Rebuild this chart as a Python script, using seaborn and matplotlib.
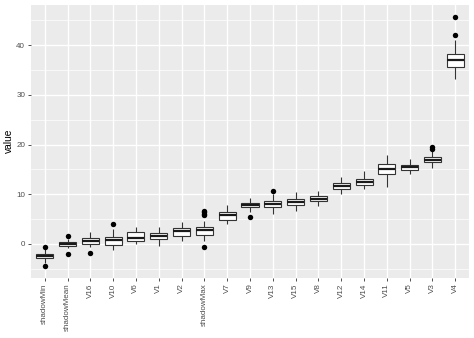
import numpy as np
import pandas as pd
import seaborn as sns
import matplotlib
matplotlib.use("Agg")
import matplotlib.pyplot as plt
from matplotlib.ticker import MultipleLocator

# ---- data ----
features = ["shadowMin", "shadowMean", "V16", "V10", "V6", "V1", "V2", "shadowMax",
            "V7", "V9", "V13", "V15", "V8", "V12", "V14", "V11", "V5", "V3", "V4"]
whisker_lo = [-3.76, -0.87, -0.67, -1.20, 0.07, -0.40, 0.60, 0.60,
              3.96, 6.50, 5.97, 6.70, 7.65, 10.10, 11.00, 11.47, 14.02, 15.36, 33.30]
q1 = [-2.85, -0.35, 0.07, -0.20, 0.54, 0.94, 1.61, 1.81,
      4.90, 7.38, 7.38, 7.91, 8.65, 11.07, 11.87, 14.02, 14.89, 16.43, 35.68]
median = [-2.41, 0.00, 0.54, 0.87, 1.21, 1.68, 2.55, 2.82,
          5.77, 7.91, 7.98, 8.51, 9.12, 11.74, 12.54, 15.09, 15.49, 16.97, 36.96]
q3 = [-2.05, 0.35, 1.27, 1.41, 2.35, 2.28, 3.15, 3.49,
      6.37, 8.31, 8.65, 9.12, 9.59, 12.27, 13.08, 16.03, 15.96, 17.57, 38.23]
whisker_hi = [-1.07, 0.94, 2.41, 2.95, 3.36, 3.49, 4.36, 4.60,
              7.85, 9.30, 10.00, 10.50, 10.66, 13.40, 14.60, 17.90, 17.10, 18.70, 41.05]
outlier_feature = ["shadowMin", "shadowMin", "shadowMean", "shadowMean", "V16", "V10",
                   "shadowMax", "shadowMax", "shadowMax", "shadowMax", "shadowMax",
                   "V9", "V13", "V3", "V3", "V4", "V4"]
outlier_value = [-0.54, -4.37, 1.54, -2.00, -1.81, 4.09,
                 6.70, 6.40, 6.10, 5.80, -0.67,
                 5.37, 10.66, 19.20, 19.50, 45.67, 41.99]

# ---- build tables for seaborn ----
rows = []
for f, lo, a, m, b, hi in zip(features, whisker_lo, q1, median, q3, whisker_hi):
    for v in (lo, a, m, b, hi):
        rows.append((f, v))
core = pd.DataFrame(rows, columns=["variable", "value"])
outs = pd.DataFrame({"variable": outlier_feature, "value": outlier_value})

plt.rcParams["font.family"] = ["Liberation Sans", "DejaVu Sans"]

fig = plt.figure(figsize=(4.74, 3.38), dpi=100)
ax = fig.add_axes([31 / 474, 1 - 277.5 / 338, (469 - 31) / 474, (277.5 - 5) / 338])
ax.set_facecolor("#EBEBEB")

sns.boxplot(data=core, x="variable", y="value", order=features, ax=ax,
            color="white", linecolor="#333333", linewidth=0.8, width=0.75,
            whis=(0, 100), showfliers=False, showcaps=False,
            medianprops=dict(color="#1a1a1a", linewidth=1.6), zorder=3)
sns.stripplot(data=outs, x="variable", y="value", order=features, ax=ax,
              jitter=False, color="black", size=3.9, linewidth=0, zorder=4)

ax.set_xlim(-0.6, len(features) - 1 + 0.6)
ax.set_ylim(-6.75, 48.1)
ax.yaxis.set_major_locator(MultipleLocator(10))
ax.yaxis.set_minor_locator(MultipleLocator(5))

ax.grid(which="major", color="white", linewidth=1.0, zorder=0)
ax.grid(which="minor", axis="y", color="white", linewidth=0.5, zorder=0)
ax.set_axisbelow(True)
for s in ax.spines.values():
    s.set_visible(False)

ax.tick_params(axis="both", which="major", length=2.2, width=0.6, color="#333333",
               labelsize=5.8, labelcolor="#4D4D4D", pad=2)
ax.tick_params(axis="both", which="minor", length=0)
ax.tick_params(axis="x", labelrotation=90)
ax.set_xlabel("")
ax.set_ylabel("value", fontsize=7.4, color="black", labelpad=1.5)

fig.savefig("out.png", dpi=100, facecolor="white")
